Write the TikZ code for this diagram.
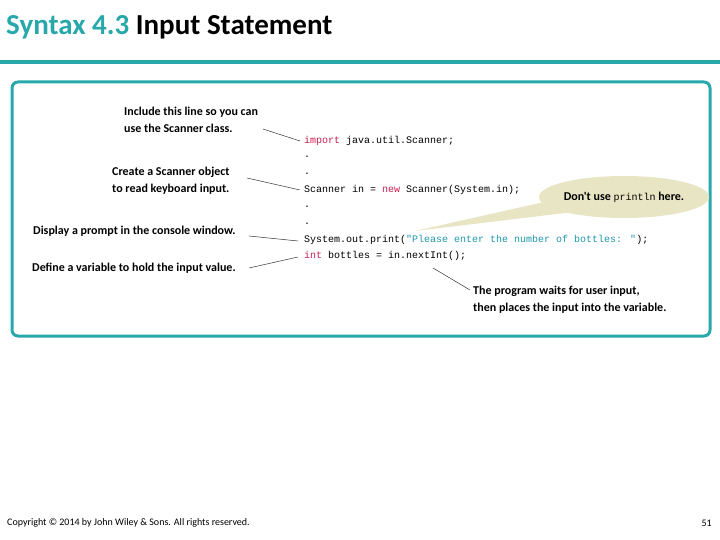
\documentclass[tikz,border=0pt]{standalone}
\usepackage{fontspec}
\usetikzlibrary{shapes.geometric}
\setmainfont{Carlito}
\newfontfamily\codefont{Liberation Mono}
\newfontfamily\notefont{Carlito}
\definecolor{teal1}{RGB}{40,168,170}
\definecolor{kw}{RGB}{200,30,80}
\definecolor{str}{RGB}{30,150,170}
\definecolor{bub}{RGB}{232,229,196}
\begin{document}
\begin{tikzpicture}[x=1pt,y=-1pt,
  note/.style={anchor=west,inner sep=0pt,font=\fontsize{12}{17}\selectfont\notefont\bfseries,align=left},
  code/.style={anchor=west,inner sep=0pt,font=\fontsize{10}{12}\selectfont\codefont},
  lead/.style={draw=black!80,line width=0.5pt}]
\useasboundingbox (0,0) rectangle (720,540);
\node[anchor=west,inner sep=0pt,font=\fontsize{29}{32}\selectfont\bfseries] (title) at (6,27) {\textcolor{teal1}{Syntax 4.3} Input Statement};
\fill[teal1] (0,60) rectangle (720,64);
\draw[teal1,line width=3pt,rounded corners=6pt] (12,82) rectangle (710,336);
% code
\node[code] (c1) at (304,141) {\textcolor{kw}{import} java.util.Scanner;};
\node[code] (d1) at (304,157) {.};
\node[code] (d2) at (304,174) {.};
\node[code] (c2) at (304,190) {Scanner in = \textcolor{kw}{new} Scanner(System.in);};
\node[code] (d3) at (304,207) {.};
\node[code] (d4) at (304,224) {.};
\node[code] (c3) at (304,240) {System.out.print(\textcolor{str}{"Please enter the number of bottles: "});};
\node[code] (c4) at (304,256) {\textcolor{kw}{int} bottles = in.nextInt();};
% notes
\node[note] (n1) at (124,120) {Include this line so you can\\use the Scanner class.};
\node[note] (n2) at (112,181) {Create a Scanner object\\to read keyboard input.};
\node[note] (n3) at (33,231) {Display a prompt in the console window.};
\node[note] (n4) at (32,268) {Define a variable to hold the input value.};
\node[note] (n5) at (473,300) {The program waits for user input,\\then places the input into the variable.};
\coordinate (a1) at (263,129); \coordinate (b1) at (300,141);
\coordinate (a2) at (247,178); \coordinate (b2) at (300,190);
\coordinate (a3) at (249,236); \coordinate (b3) at (298,241);
\coordinate (a4) at (249,268); \coordinate (b4) at (298,257);
\coordinate (a5) at (470,290); \coordinate (b5) at (433,268);
\draw[lead] (a1) -- (b1); \draw[lead] (a2) -- (b2); \draw[lead] (a3) -- (b3);
\draw[lead] (a4) -- (b4); \draw[lead] (a5) -- (b5);
% bubble
\fill[bub] (415,231) -- (575,195) -- (590,210) -- cycle;
\node[ellipse,fill=bub,minimum width=148pt,minimum height=42pt,inner sep=0pt,font=\fontsize{12}{12}\selectfont\notefont\bfseries] (bubble) at (624,197) {Don't use {\codefont\mdseries\fontsize{10}{12}\selectfont println} here.};
% footer
\node[anchor=west,inner sep=0pt,font=\fontsize{10}{12}\selectfont] (copy) at (7,523) {Copyright © 2014 by John Wiley \& Sons. All rights reserved.};
\node[anchor=east,inner sep=0pt,font=\fontsize{10}{12}\selectfont] (pg) at (712,523) {51};
\end{tikzpicture}
\end{document}
